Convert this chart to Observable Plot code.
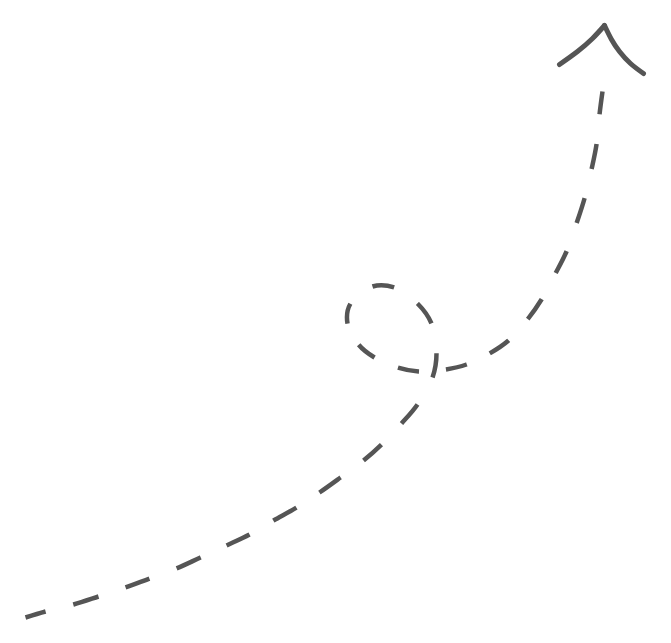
<!DOCTYPE html>
<html>
<head>
<meta charset="utf-8">
<script src="https://cdn.jsdelivr.net/npm/d3@7"></script>
<script src="https://cdn.jsdelivr.net/npm/@observablehq/plot@0.6"></script>
<style>
  html, body { margin: 0; padding: 0; background: #fff; }
</style>
</head>
<body>
<div id="chart"></div>
<script>
// Dashed trail: dash start/end points, in order (image-space units, y downward)
const trailX = [25, 45, 73, 98, 125, 149, 176, 200, 226, 249, 273, 296, 319, 340, 363, 381, 401, 417, 432, 436, 431, 417, 394, 372, 350, 347, 358, 374, 397, 418, 445, 466, 489, 508, 527, 541, 555, 566, 576, 584, 591, 596, 599, 602];
const trailY = [617, 611, 604, 596, 587, 578, 568, 557, 545, 534, 520, 507, 492, 477, 460, 444, 423, 404, 377, 353, 323, 303, 287, 286, 303, 323, 344, 357, 367, 371, 369, 364, 353, 340, 319, 299, 273, 251, 223, 198, 169, 144, 114, 91];

// Arrowhead arms
const headArm = ["left", "left", "left", "left", "right", "right", "right", "right", "right"];
const headX = [559, 577, 592, 604, 604, 611, 619, 630, 643];
const headY = [64, 51, 38, 25, 25, 39, 51, 63, 73];

const trail = trailX.map((x, i) => ({x, y: trailY[i]}));
const head = headX.map((x, i) => ({x, y: headY[i], arm: headArm[i]}));

const chart = Plot.plot({
  width: 671,
  height: 643,
  margin: 0,
  x: {domain: [0, 671], range: [0, 671], axis: null},
  y: {domain: [0, 643], range: [0, 643], axis: null},
  marks: [
    Plot.line(trail, {x: "x", y: "y", curve: "catmull-rom", stroke: "#555", strokeWidth: 4.5, className: "trail"}),
    Plot.line(head, {x: "x", y: "y", z: "arm", curve: "natural", stroke: "#555", strokeWidth: 5, strokeLinecap: "round"})
  ]
});
document.getElementById("chart").appendChild(chart);

// Dash pattern: each dash runs between consecutive trail points (on/off alternating)
const path = chart.querySelector(".trail path");
if (path) {
  const sx = chart.scale("x"), sy = chart.scale("y");
  const L = path.getTotalLength();
  const step = 0.5;
  const samples = [];
  for (let s = 0; s <= L; s += step) {
    const p = path.getPointAtLength(s);
    samples.push([s, p.x, p.y]);
  }
  const lens = [];
  let start = 0;
  trail.forEach((d) => {
    const px = sx.apply(d.x), py = sy.apply(d.y);
    let best = start, bestD = Infinity;
    for (let k = start; k < samples.length && samples[k][0] <= samples[start][0] + 120; k++) {
      const dd = (samples[k][1] - px) ** 2 + (samples[k][2] - py) ** 2;
      if (dd < bestD) { bestD = dd; best = k; }
    }
    lens.push(samples[best][0]);
    start = best;
  });
  lens[0] = 0;
  lens[lens.length - 1] = L;
  const pattern = [];
  for (let i = 1; i < lens.length; i++) pattern.push(Math.max(0.1, lens[i] - lens[i - 1]).toFixed(2));
  pattern.push((L + 10).toFixed(2));
  path.setAttribute("stroke-dasharray", pattern.join(","));
  path.setAttribute("stroke-linecap", "butt");
}
</script>
</body>
</html>
